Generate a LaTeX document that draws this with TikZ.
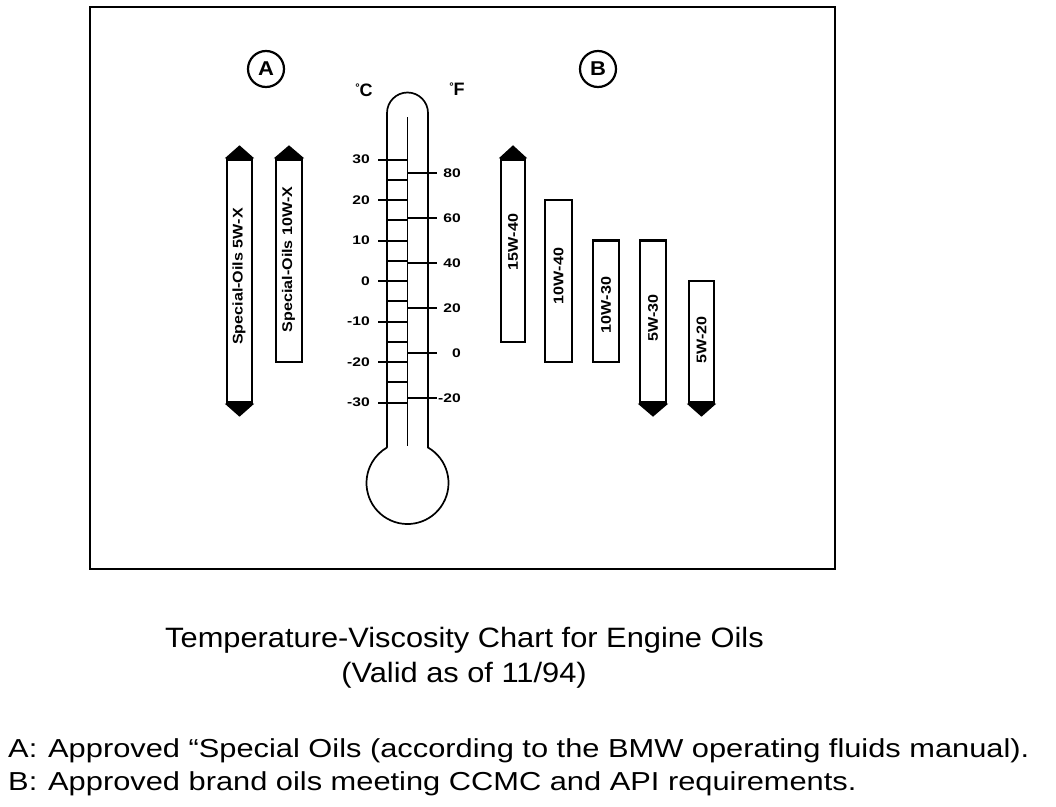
\documentclass[tikz,border=0pt]{standalone}
\usepackage{fontspec}
\setmainfont{Liberation Sans}
\usepackage{graphicx}
\tikzset{
  frame/.style={line width=2.6pt},
  tube/.style={line width=1.7pt},
  tick/.style={line width=2pt},
  oilbar/.style={draw, line width=2.4pt, fill=white, inner sep=0pt},
  barlabel/.style={rotate=90, inner sep=0pt, font=\bfseries\fontsize{14}{14}\selectfont},
  scalelabel/.style={inner sep=0pt, font=\bfseries\fontsize{12.5}{12.5}\selectfont},
  tip/.style={fill=black},
  letter/.style={draw, circle, line width=2.2pt, minimum size=36pt, inner sep=0pt, font=\bfseries\fontsize{20}{20}\selectfont},
  caption/.style={inner sep=0pt, font=\fontsize{28}{28}\selectfont},
  legend/.style={inner sep=0pt, font=\fontsize{26}{26}\selectfont, anchor=base west},
  unit/.style={inner sep=0pt, font=\bfseries\fontsize{18}{18}\selectfont},
}
\newcommand{\sx}[2]{\scalebox{#1}[1]{#2}}
\begin{document}
\begin{tikzpicture}[x=1pt,y=-1pt]
\useasboundingbox (0,0) rectangle (1056,806);
% frame
\draw[frame] (90,7) rectangle (835,569);
% circle labels
\node[letter] (cA) at (266,69) {\sx{1.1}{A}};
\node[letter] (cB) at (598,69) {\sx{1.1}{B}};
% units
\node[unit] (degC) at (364,90) {\raisebox{5pt}{\bfseries\fontsize{11}{11}\selectfont °}C};
\node[unit] (degF) at (457,89) {\raisebox{5pt}{\bfseries\fontsize{11}{11}\selectfont °}F};
% thermometer
\draw[tube] (387,447.5) -- (387,113) arc[start angle=180, end angle=360, radius=20.5]
  -- (428,447.5) arc[start angle=-60, end angle=240, radius=41];
\draw[tube] (407.5,117) -- (407.5,446);
\foreach \c in {30,20,...,-30} {
  \pgfmathsetmacro\yy{281-4.05*\c}
  \draw[tick] (378,\yy) -- (407.5,\yy);
  \node[scalelabel, anchor=east] (cl\c) at (370,\yy) {\sx{1.25}{\c}};
}
\foreach \c in {25,15,...,-25} {
  \pgfmathsetmacro\yy{281-4.05*\c}
  \draw[tick] (387,\yy) -- (407.5,\yy);
}
\foreach \f in {80,60,...,-20} {
  \pgfmathsetmacro\yy{281-4.05*(\f-32)*5/9}
  \draw[tick] (407.5,\yy) -- (437,\yy);
  \node[scalelabel, anchor=east] (fl\f) at (461,\yy) {\sx{1.25}{\f}};
}
% bars A
\node[oilbar, minimum width=25pt, minimum height=243pt] (a1) at (239.5,281) {};
\node[oilbar, minimum width=26pt, minimum height=202.5pt] (a2) at (289,260.75) {};
% bars B
\node[oilbar, minimum width=24pt, minimum height=182.25pt] (b1) at (513,250.6) {};
\node[oilbar, minimum width=27pt, minimum height=162pt] (b2) at (558.5,281) {};
\node[oilbar, minimum width=26pt, minimum height=121.5pt] (b3) at (606,301.25) {};
\node[oilbar, minimum width=26pt, minimum height=162pt] (b4) at (653,321.5) {};
\node[oilbar, minimum width=25pt, minimum height=121.5pt] (b5) at (701.5,341.75) {};
% arrow tips
\foreach \b in {a1,a2,b1} {
  \fill[tip] ([xshift=-1pt]\b.north west) -- ([yshift=13pt]\b.north) -- ([xshift=1pt]\b.north east) -- cycle;
}
\foreach \b in {a1,b4,b5} {
  \fill[tip] ([xshift=-1pt]\b.south west) -- ([yshift=-13pt]\b.south) -- ([xshift=1pt]\b.south east) -- cycle;
}
% bar labels
\node[barlabel] (a1t) at (239,276.5) {\sx{1.15}{Special-Oils 5W-X}};
\node[barlabel] (a2t) at (288.5,259.5) {\sx{1.15}{Special-Oils 10W-X}};
\node[barlabel] (b1t) at (513,242) {\sx{1.15}{15W-40}};
\node[barlabel] (b2t) at (558.5,276) {\sx{1.15}{10W-40}};
\node[barlabel] (b3t) at (606,305) {\sx{1.15}{10W-30}};
\node[barlabel] (b4t) at (653,318) {\sx{1.15}{5W-30}};
\node[barlabel] (b5t) at (701.5,340) {\sx{1.15}{5W-20}};
% captions
\node[caption, anchor=base] (title1) at (464.5,647) {\sx{1.1}{Temperature-Viscosity Chart for Engine Oils}};
\node[caption, anchor=base] (title2) at (464,682) {\sx{1.1}{(Valid as of 11/94)}};
\node[legend] (legA) at (8,757) {\sx{1.185}{\makebox[33.75pt][l]{A:}Approved “Special Oils (according to the BMW operating fluids manual).}};
\node[legend] (legB) at (8,790) {\sx{1.185}{\makebox[33.75pt][l]{B:}Approved brand oils meeting CCMC and API requirements.}};
\end{tikzpicture}
\end{document}
